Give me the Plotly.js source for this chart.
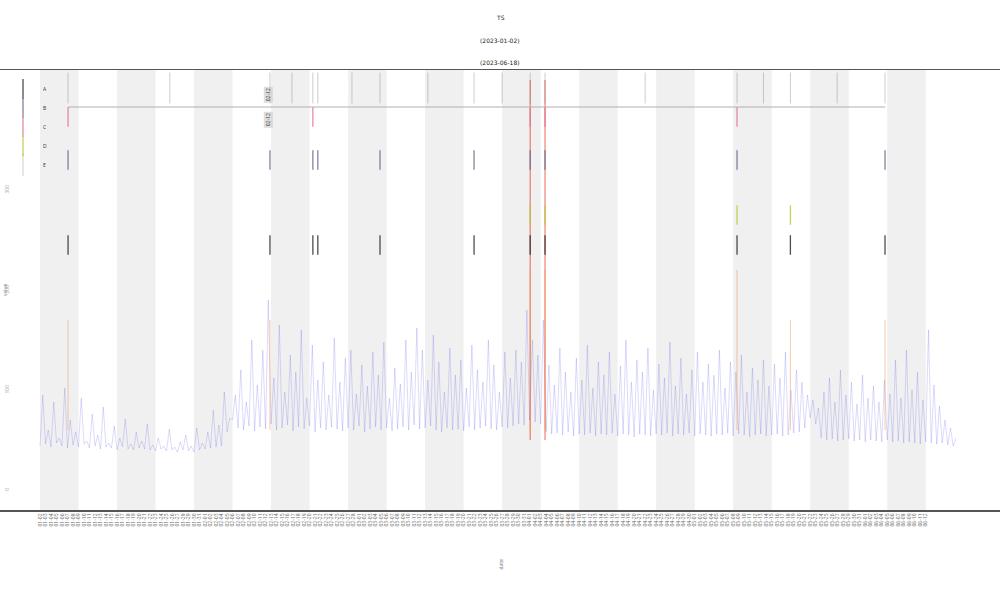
<!DOCTYPE html>
<html>
<head>
<meta charset="utf-8">
<script src="https://cdn.plot.ly/plotly-3.0.1.min.js"></script>
<style>html,body{margin:0;padding:0;background:#fff}#chart{width:1000px;height:600px}</style>
</head>
<body>
<div id="chart"></div>
<script>
// ---------- data (two samples per day, day 0 = 2023-01-02) ----------
const startDate = '2023-01-02';
const samplesPerDay = 2;
const seriesValues = [
  // days 0-9
  44,95, 46,60, 43,88, 47,52, 44,102, 42,70, 45,58, 43,92, 46,49, 42,76,
  // days 10-19
  44,55, 41,83, 43,47, 42,64, 40,52, 43,71, 41,46, 40,58, 42,49, 41,66,
  // days 20-29
  40,45, 39,52, 41,44, 39,61, 40,43, 38,48, 40,55, 39,44, 38,62, 40,47,
  // days 30-35
  41,58, 42,80, 43,65, 44,98, 58,72, 70,95,
  // days 36-45
  62,120, 60,88, 64,150, 59,105, 63,140, 61,190, 66,112, 60,165, 62,98, 65,135,
  // days 46-55
  59,118, 63,160, 61,92, 64,145, 58,110, 62,128, 60,95, 63,152, 61,108, 59,132,
  // days 56-65
  62,140, 60,96, 64,125, 58,104, 61,138, 63,115, 60,148, 62,92, 59,122, 61,106,
  // days 66-75
  63,150, 60,118, 65,162, 61,140, 62,110, 64,155, 60,128, 58,98, 62,142, 60,115,
  // days 76-85
  61,130, 59,102, 63,145, 60,120, 62,108, 64,150, 61,125, 60,98, 63,138, 62,112,
  // days 86-91
  64,140, 66,128, 65,180, 70,150, 68,135, 66,170,
  // days 92-101
  58,125, 56,105, 57,142, 55,118, 58,98, 54,132, 56,110, 55,145, 57,102, 54,128,
  // days 102-111
  56,115, 55,138, 57,96, 54,124, 56,150, 55,108, 53,130, 56,118, 55,142, 54,100,
  // days 112-121
  56,126, 55,112, 57,148, 54,104, 56,132, 55,96, 57,120, 54,138, 56,108, 55,126,
  // days 122-131
  54,115, 56,140, 55,102, 57,128, 54,118, 56,135, 55,98, 53,122, 55,110, 56,130,
  // days 132-141
  54,104, 55,126, 56,112, 54,138, 55,100, 57,120, 58,108, 62,95, 72,90, 66,82,
  // days 142-151
  52,98, 50,112, 51,88, 49,120, 50,95, 51,108, 49,86, 50,115, 48,92, 50,104,
  // days 152-161
  49,88, 48,110, 50,96, 48,130, 49,92, 47,140, 48,100, 47,118, 46,90, 48,160,
  // days 162-166
  47,105, 46,84, 47,70, 45,62, 44,52
];

// event days (all events) and per-category events
const eventDays   = [5.1, 23.6, 41.8, 45.8, 49.6, 50.5, 56.7, 61.8, 70.5, 78.9, 84.0, 89.1, 91.8, 110.0, 126.7, 131.5, 136.4, 144.9, 153.6];
const catNames    = ['A', 'B', 'C', 'D', 'E'];
const catColors   = ['#222222', '#66668a', '#e07090', '#b5cc30', '#777777'];
const catLevels   = [245, 330, 373, 275, 402];
const catDays     = [
  [5.1, 41.8, 49.6, 50.5, 61.8, 78.9, 89.1, 91.8, 126.7, 136.4, 153.6],
  [5.1, 41.8, 49.6, 50.5, 61.8, 78.9, 89.1, 91.8, 126.7, 153.6],
  [5.1, 49.6, 89.1, 91.8, 126.7],
  [89.1, 91.8, 126.7, 136.4],
  [5.1, 23.6, 41.8, 45.8, 49.6, 50.5, 56.7, 61.8, 70.5, 78.9, 84.0, 89.1, 91.8, 110.0, 126.7, 131.5, 136.4, 144.9, 153.6]
];
// long coloured marker lines
const redLineDays    = [89.1, 91.8];
const orangeLineDays = [5.1, 41.8, 89.1, 91.8, 126.7, 136.4, 153.6];
const orangeLineTop  = [170, 170, 220, 220, 220, 170, 170];
const spanLevel = 383;
const spanDays  = [5.1, 153.6];
const noteDays  = [41.5, 41.5];
const noteLevels = [395, 370];
const noteTexts = ['02-12', '02-12'];

const bandStarts = [0, 14, 28, 42, 56, 70, 84, 98, 112, 126, 140, 154];
const bandWidth = 7;
const tickFirstDay = 0, tickLastDay = 161;
const yTickVals = [0, 100, 200, 300];

const titleLines = ['TS', '(2023-01-02)', '(2023-06-18)'];
const xTitle = 'date';
const yTitle = 'value';

// ---------- helpers ----------
const base = Date.parse(startDate + 'T00:00:00Z');
function d2s(day) {
  return new Date(base + day * 86400000).toISOString().slice(0, 19).replace('T', ' ');
}

const xs = seriesValues.map((_, i) => d2s(i / samplesPerDay));

const traces = [];
traces.push({
  x: xs, y: seriesValues, type: 'scatter', mode: 'lines',
  line: {color: 'rgba(80,80,235,0.38)', width: 0.55},
  showlegend: false, hoverinfo: 'skip'
});

function vlines(days, tops, bottom) {
  const x = [], y = [];
  days.forEach((d, i) => {
    x.push(d2s(d), d2s(d), null);
    y.push(Array.isArray(tops) ? tops[i] : tops, bottom, null);
  });
  return {x, y};
}

const red = vlines(redLineDays, 410, 50);
traces.push({x: red.x, y: red.y, type: 'scatter', mode: 'lines',
  line: {color: 'rgba(230,60,40,0.7)', width: 1.1}, showlegend: false, hoverinfo: 'skip'});
const org = vlines(orangeLineDays, orangeLineTop, 60);
traces.push({x: org.x, y: org.y, type: 'scatter', mode: 'lines',
  line: {color: 'rgba(245,150,80,0.5)', width: 1}, showlegend: false, hoverinfo: 'skip'});

// horizontal span line
traces.push({x: spanDays.map(d2s), y: [spanLevel, spanLevel], type: 'scatter', mode: 'lines',
  line: {color: '#b0b0b0', width: 1}, showlegend: false, hoverinfo: 'skip'});

catNames.forEach((n, k) => {
  traces.push({
    x: catDays[k].map(d2s), y: catDays[k].map(() => catLevels[k]),
    type: 'scatter', mode: 'markers', name: n,
    marker: {symbol: 'line-ns-open', size: k === 4 ? 22 : 14,
             line: {color: catColors[k], width: k === 4 ? 0.6 : 1.3}, color: catColors[k]},
    opacity: k === 4 ? 0.6 : 0.8
  });
});

const shapes = bandStarts.map(s => ({
  type: 'rect', xref: 'x', yref: 'paper', x0: d2s(s), x1: d2s(s + bandWidth), y0: 0, y1: 1,
  fillcolor: '#f0f0f0', line: {width: 0}, layer: 'below'
}));

const tickVals = [], tickText = [];
for (let d = tickFirstDay; d <= tickLastDay; d++) {
  tickVals.push(d2s(d));
  tickText.push(d2s(d).slice(5, 10));
}

function pyToPaper(py) { return (510 - py) / 440; }
const annotations = [];
const titleY = [12, 35, 57];
titleLines.forEach((t, i) => annotations.push({
  text: t, xref: 'paper', yref: 'paper', x: 0.5, y: pyToPaper(titleY[i]),
  showarrow: false, font: {size: 6, color: '#222', family: 'DejaVu Sans'}
}));
annotations.push({text: xTitle, xref: 'paper', yref: 'paper', x: 0.5, y: pyToPaper(572),
  showarrow: false, textangle: -90, font: {size: 5, color: '#666'}});
annotations.push({text: yTitle, xref: 'paper', yref: 'paper', x: 0.005, xanchor: 'center', y: pyToPaper(290),
  showarrow: false, textangle: -90, font: {size: 5, color: '#888'}});
noteDays.forEach((d, i) => annotations.push({
  text: noteTexts[i], x: d2s(d), y: noteLevels[i], xref: 'x', yref: 'y',
  showarrow: false, textangle: -90, font: {size: 5, color: '#333'}, bgcolor: 'rgba(200,200,200,0.6)'
}));

const layout = {
  width: 1000, height: 600,
  margin: {l: 0, r: 0, t: 70, b: 90, pad: 0},
  paper_bgcolor: '#fff', plot_bgcolor: '#fff',
  showlegend: true,
  legend: {x: 0.003, y: 0.99, xanchor: 'left', yanchor: 'top', bgcolor: 'rgba(255,255,255,0)',
           font: {size: 5, color: '#333'}, itemwidth: 30, tracegroupgap: 0},
  xaxis: {
    type: 'date', range: [d2s(-7.27), d2s(174.5)],
    tickmode: 'array', tickvals: tickVals, ticktext: tickText,
    tickangle: -90, tickfont: {size: 5, color: '#666'},
    showgrid: false, zeroline: false,
    showline: true, mirror: true, linecolor: '#555', linewidth: 1.5, ticks: ''
  },
  yaxis: {
    range: [-20, 420], tickvals: yTickVals, ticklabelposition: 'inside',
    tickangle: -90, tickfont: {size: 5, color: '#aaa'},
    showgrid: false, zeroline: false, showline: false, ticks: ''
  },
  shapes: shapes,
  annotations: annotations
};

Plotly.newPlot('chart', traces, layout, {displayModeBar: false, staticPlot: true});
</script>
</body>
</html>
